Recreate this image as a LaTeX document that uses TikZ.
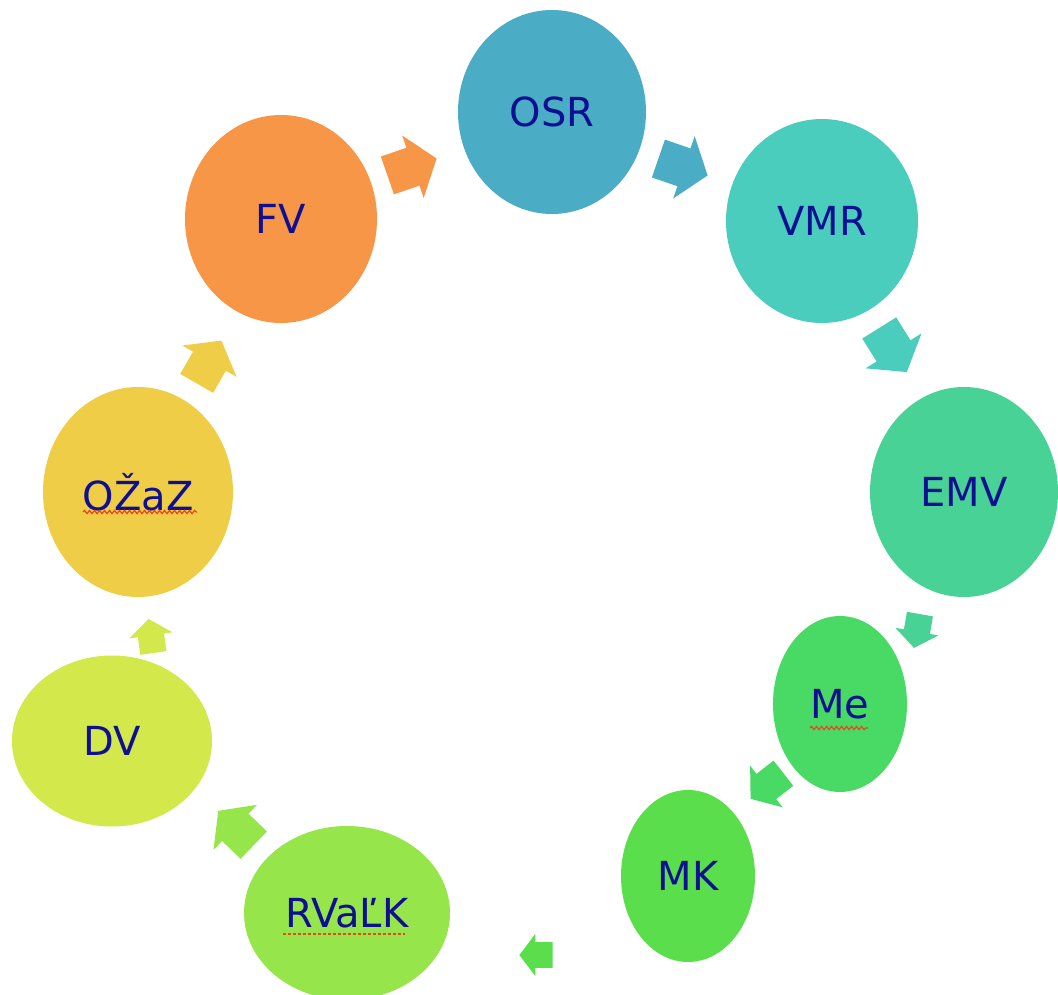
\documentclass[tikz,border=0pt]{standalone}
\usepackage{fontspec}
\setmainfont{DejaVu Sans}
\usetikzlibrary{shapes.geometric,decorations.pathmorphing}
\definecolor{cOSR}{RGB}{75,172,198}
\definecolor{cVMR}{RGB}{75,205,190}
\definecolor{cEMV}{RGB}{72,210,150}
\definecolor{cMe}{RGB}{72,218,100}
\definecolor{cMK}{RGB}{90,222,75}
\definecolor{cRV}{RGB}{150,230,75}
\definecolor{cDV}{RGB}{210,232,75}
\definecolor{cOZ}{RGB}{240,205,70}
\definecolor{cFV}{RGB}{246,150,70}
\definecolor{navy}{RGB}{15,15,145}
\definecolor{spell}{RGB}{235,70,30}
% #1 name, #2 position, #3 angle, #4 scale, #5 colour
\newcommand\blkarrow[5]{%
  \coordinate (#1) at (#2);
  \fill[#5,shift={(#1)},rotate=#3,scale=#4]
    (-26,-20) -- (1,-20) -- (1,-33) -- (26,0) -- (1,33) -- (1,20) -- (-26,20) -- cycle;}
\begin{document}
\begin{tikzpicture}[x=1pt,y=-1pt,
  bubble/.style={ellipse,inner sep=0pt,text=navy,
    font=\fontsize{40}{46}\selectfont},
  wavy/.style={draw=spell,line width=1.2pt,decorate,decoration={snake,amplitude=1.6pt,segment length=5pt}}
]
\useasboundingbox (0,0) rectangle (1058,995);
\fill[white] (0,0) rectangle (1058,995);
% nodes
\node[bubble,fill=cOSR,minimum width=188pt,minimum height=204pt] (OSR) at (552,112) {OSR};
\node[bubble,fill=cVMR,minimum width=192pt,minimum height=204pt] (VMR) at (822,221) {VMR};
\node[bubble,fill=cEMV,minimum width=188pt,minimum height=210pt] (EMV) at (964,492) {EMV};
\node[bubble,fill=cMe,minimum width=134pt,minimum height=176pt] (Me) at (840,704) {Me};
\node[bubble,fill=cMK,minimum width=134pt,minimum height=172pt] (MK) at (688,876) {MK};
\node[bubble,fill=cRV,minimum width=206pt,minimum height=174pt] (RV) at (347,913) {RVaĽK};
\node[bubble,fill=cDV,minimum width=200pt,minimum height=171pt] (DV) at (112,741) {DV};
\node[bubble,fill=cOZ,minimum width=190pt,minimum height=210pt] (OZ) at (138,492) {OŽaZ};
\node[bubble,fill=cFV,minimum width=192pt,minimum height=208pt] (FV) at (281,219) {FV};
% spell-check underlines
\coordinate (uOZa) at (83,512); \coordinate (uOZb) at (197,512);
\draw[wavy] (uOZa) -- (uOZb);
\coordinate (uMea) at (810,728); \coordinate (uMeb) at (868,728);
\draw[wavy] (uMea) -- (uMeb);
\coordinate (uRVa) at (283,934); \coordinate (uRVb) at (405,934);
\draw[draw=spell,line width=1.4pt,dash pattern=on 3pt off 2pt] (uRVa) -- (uRVb);
% block arrows
\blkarrow{a1}{412,167}{19}{1}{cFV}
\blkarrow{a2}{683,167}{-19}{1}{cOSR}
\blkarrow{a3}{893,350}{-58}{1}{cVMR}
\blkarrow{a4}{917,631}{-100}{0.66}{cEMV}
\blkarrow{a5}{767,786}{-142}{0.8}{cMe}
\blkarrow{a6}{536,955}{180}{0.64}{cMK}
\blkarrow{a7}{236,828}{136}{0.95}{cRV}
\blkarrow{a8}{151,636}{98}{0.66}{cDV}
\blkarrow{a9}{209,362}{60}{0.95}{cOZ}
\end{tikzpicture}
\end{document}
